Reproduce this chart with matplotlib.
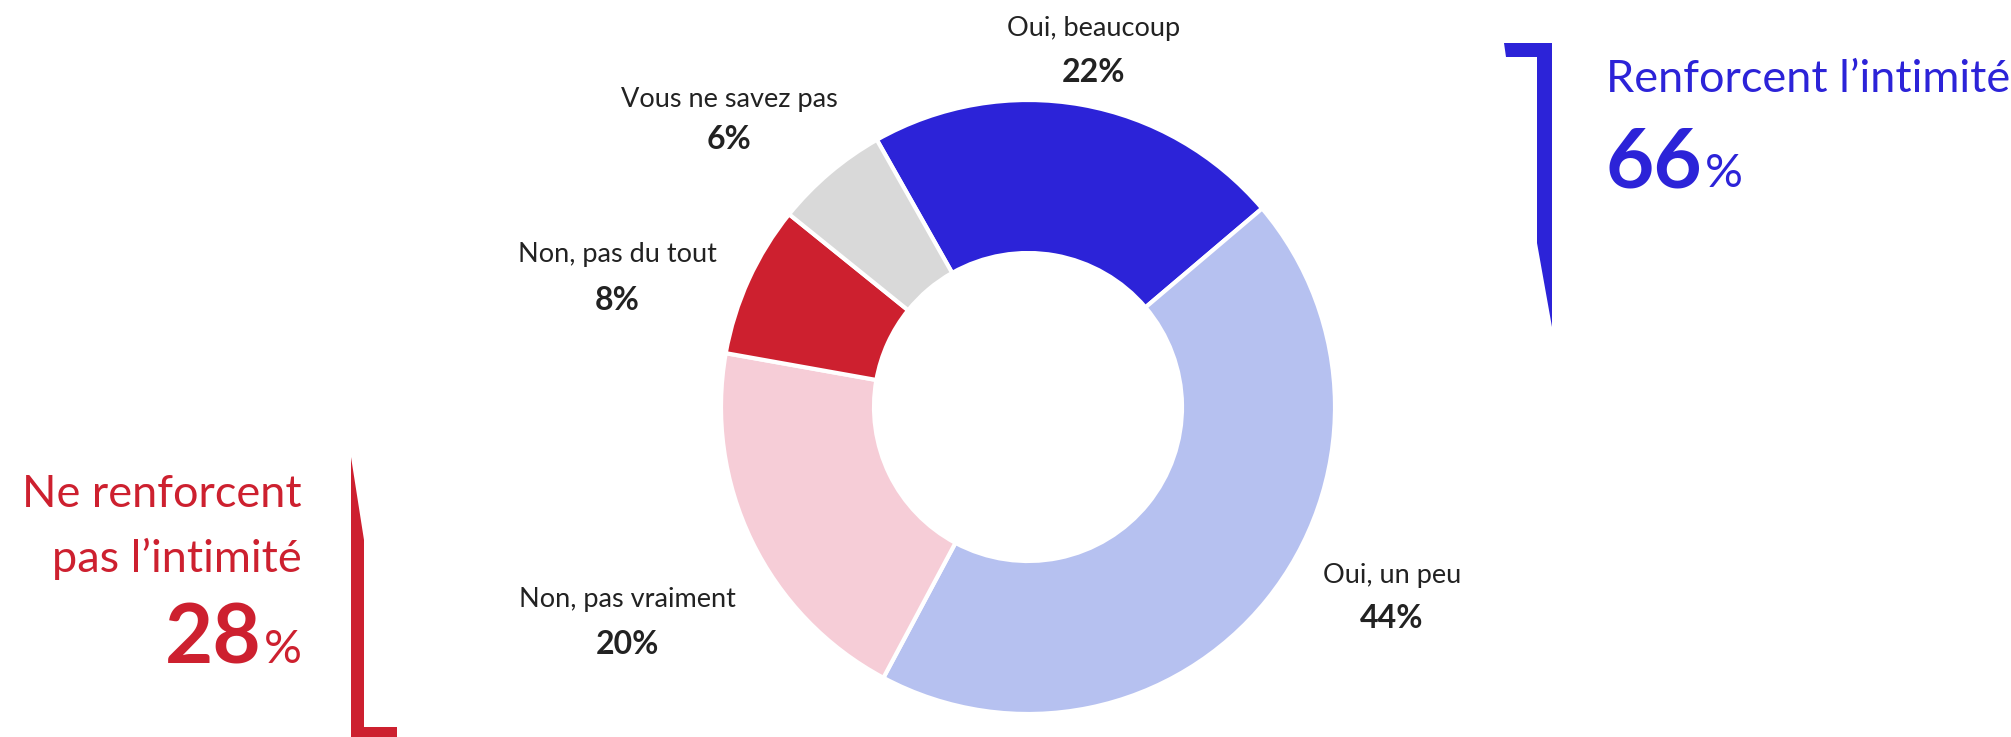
import matplotlib
matplotlib.use("Agg")
import matplotlib.pyplot as plt
from matplotlib.patches import Polygon

plt.rcParams['font.family'] = ['Lato', 'DejaVu Sans']

categories = ["Oui, beaucoup", "Oui, un peu", "Non, pas vraiment", "Non, pas du tout", "Vous ne savez pas"]
values = [22, 44, 20, 8, 6]
value_labels = ["22%", "44%", "20%", "8%", "6%"]
colors = ["#2C23D8", "#B6C1F0", "#F6CDD7", "#CD202F", "#D9D9D9"]
group_titles = ["Renforcent l\u2019intimit\u00e9", "Ne renforcent\npas l\u2019intimit\u00e9"]
group_values = ["66", "28"]

BLUE = "#2C23D8"
RED = "#CD202F"
DARK = "#222222"

W, H = 2011, 737
fig = plt.figure(figsize=(W / 100, H / 100), dpi=100)
ax = fig.add_axes([0, 0, 1, 1])

def Y(y):
    return H - y

ax.pie(values, colors=colors, startangle=119.5, counterclock=False,
       center=(1028, Y(407)), radius=307,
       wedgeprops=dict(width=153, edgecolor="white", linewidth=3))
ax.set_aspect('auto')
ax.set_xlim(0, W)
ax.set_ylim(0, H)
ax.axis('off')

# slice labels (name, value) positions in pixels
label_pos = {
    "Oui, beaucoup": (1094, 28, 72),
    "Oui, un peu": (1392, 575, 619),
    "Non, pas vraiment": (627, 600, 644),
    "Non, pas du tout": (617, 254, 300),
    "Vous ne savez pas": (729, 99, 139),
}
for cat, vl in zip(categories, value_labels):
    x, y1, y2 = label_pos[cat]
    ax.text(x, Y(y1), cat, ha='center', va='center', fontsize=19.5, color=DARK)
    ax.text(x, Y(y2), vl, ha='center', va='center', fontsize=23, color=DARK, fontweight='bold')

# brackets
right_br = [(1504, 43), (1552, 43), (1552, 327), (1537, 243), (1537, 57), (1506, 57)]
left_br = [(351, 457), (364, 540), (364, 727), (397, 727), (397, 737), (351, 737)]
ax.add_patch(Polygon([(x, Y(y)) for x, y in right_br], closed=True, color=BLUE, lw=0))
ax.add_patch(Polygon([(x, Y(y)) for x, y in left_br], closed=True, color=RED, lw=0))

renderer = fig.canvas.get_renderer()
TSIZE = 32.5

# right group
ax.text(1606, Y(92), group_titles[0], ha='left', va='baseline', fontsize=TSIZE, color=BLUE)
t = ax.text(1606, Y(187), group_values[0], ha='left', va='baseline', fontsize=60,
            color=BLUE, fontweight='bold')
bb = t.get_window_extent(renderer)
ax.text(bb.x1 + 2, Y(187), "%", ha='left', va='baseline', fontsize=34, color=BLUE)

# left group
line1, line2 = group_titles[1].split("\n")
ax.text(302, Y(507), line1, ha='right', va='baseline', fontsize=TSIZE, color=RED)
ax.text(302, Y(572), line2, ha='right', va='baseline', fontsize=TSIZE, color=RED)
p = ax.text(302, Y(663), "%", ha='right', va='baseline', fontsize=34, color=RED)
bb = p.get_window_extent(renderer)
ax.text(bb.x0 - 2, Y(663), group_values[1], ha='right', va='baseline', fontsize=60,
        color=RED, fontweight='bold')

fig.savefig("out.png", dpi=100, facecolor="white")
